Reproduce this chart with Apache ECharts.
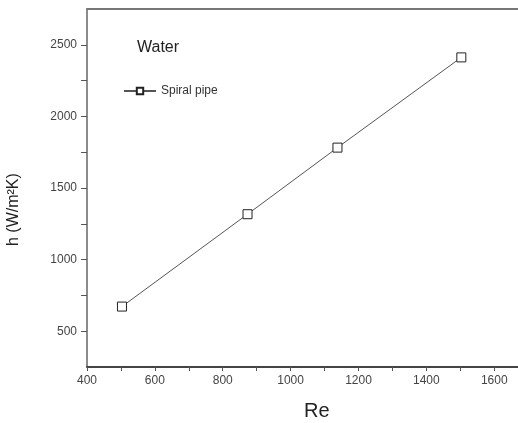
<!DOCTYPE html>
<html>
<head>
<meta charset="utf-8">
<script src="https://cdn.jsdelivr.net/npm/echarts@6/dist/echarts.min.js"></script>
<style>html,body{margin:0;padding:0;background:#fff;}#c{width:518px;height:423px;}</style>
</head>
<body>
<div id="c"></div>
<script>
var reValues = [503, 873, 1138, 1503];
var hValues = [672, 1317, 1782, 2412];
var seriesName = 'Spiral pipe';
var xTickLabels = [400, 600, 800, 1000, 1200, 1400, 1600];
var yTickLabels = [500, 1000, 1500, 2000, 2500];

var chart = echarts.init(document.getElementById('c'), null, {renderer: 'canvas'});
var pts = reValues.map(function (x, i) { return [x, hValues[i]]; });
var font = 'Liberation Sans, Arial, sans-serif';

chart.setOption({
  animation: false,
  backgroundColor: '#fff',
  grid: {left: 87, top: 9, right: 0, bottom: 56, containLabel: false},
  xAxis: [{
    type: 'value', min: 400, max: 1670, interval: 100,
    axisLine: {lineStyle: {color: '#444', width: 2}},
    axisTick: {show: true, length: 4, inside: false, lineStyle: {color: '#555'}},
    splitLine: {show: false},
    axisLabel: {
      showMaxLabel: false, margin: 8, color: '#444', fontSize: 12, fontFamily: font,
      formatter: function (v) { return xTickLabels.indexOf(v) >= 0 ? String(v) : ''; }
    }
  }, {
    type: 'value', position: 'top', min: 400, max: 1670,
    axisLine: {show: true, lineStyle: {color: '#777', width: 2}},
    axisTick: {show: false}, axisLabel: {show: false}, splitLine: {show: false}
  }],
  yAxis: {
    type: 'value', min: 250, max: 2750, interval: 250,
    axisLine: {show: true, lineStyle: {color: '#666', width: 1.5}},
    axisTick: {show: true, length: 6, lineStyle: {color: '#555'}},
    splitLine: {show: false},
    axisLabel: {
      showMaxLabel: false, showMinLabel: false, margin: 10, color: '#444', fontSize: 12, fontFamily: font,
      formatter: function (v) { return yTickLabels.indexOf(v) >= 0 ? String(v) : ''; }
    }
  },
  legend: {
    left: 118, top: 80, itemWidth: 32, itemHeight: 8, itemGap: 4,
    textStyle: {color: '#333', fontSize: 12, fontFamily: font},
    data: [seriesName]
  },
  graphic: [
    {type: 'text', left: 137, top: 40, style: {text: 'Water', font: '16px ' + font, fill: '#222'}},
    {type: 'text', left: 304, top: 401, style: {text: 'Re', font: '20px ' + font, fill: '#222'}},
    {type: 'text', x: 6, y: 246, rotation: Math.PI / 2,
     style: {text: 'h (W/m\u00B2K)', font: '16px ' + font, fill: '#222'}}
  ],
  series: [{
    name: seriesName, type: 'line', data: pts,
    symbol: 'rect', symbolSize: 9,
    itemStyle: {color: '#fff', borderColor: '#222', borderWidth: 1},
    lineStyle: {color: '#555', width: 1},
    z: 3
  }]
});
</script>
</body>
</html>
